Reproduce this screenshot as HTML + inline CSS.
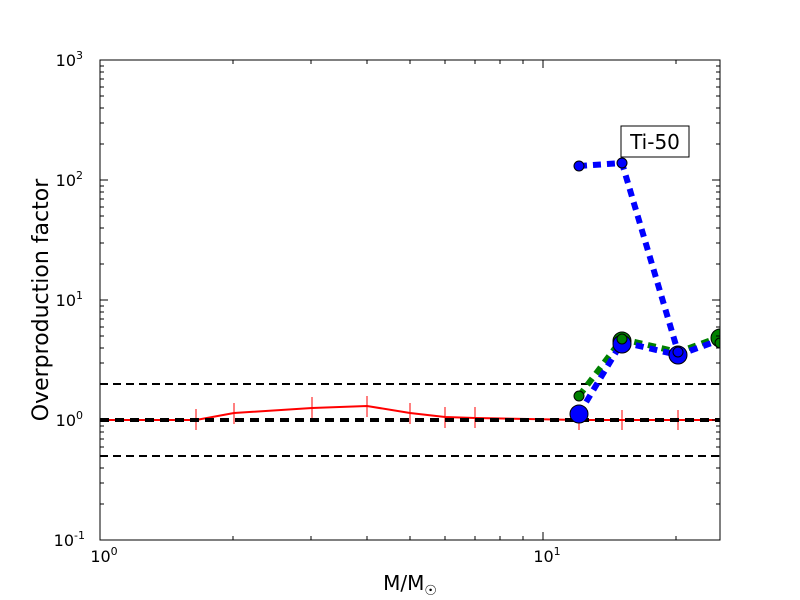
<!DOCTYPE html><html><head><style>body{margin:0;background:#fff}svg{display:block}text{font-family:"DejaVu Sans","Liberation Sans",sans-serif}</style></head><body>
<svg width="800" height="600" xmlns="http://www.w3.org/2000/svg">
<rect width="800" height="600" fill="#fff"/>
<defs><clipPath id="c"><rect x="100" y="60" width="620" height="480"/></clipPath></defs>
<g clip-path="url(#c)">
<line x1="100" y1="384" x2="720" y2="384" stroke="#000" stroke-width="2" stroke-dasharray="8,5"/>
<line x1="100" y1="456" x2="720" y2="456" stroke="#000" stroke-width="2" stroke-dasharray="8,5"/>
<polyline points="100,420 196,420 234,413 312,408 367,406 410,413 445,417 475,418 579,420 622,420 678,420 720,420" fill="none" stroke="#f00" stroke-width="2"/>
<g stroke="#f00" stroke-width="1">
<line x1="196" y1="409" x2="196" y2="430"/><line x1="234" y1="403" x2="234" y2="424"/><line x1="312" y1="397" x2="312" y2="418"/><line x1="367" y1="396" x2="367" y2="417"/><line x1="410" y1="403" x2="410" y2="424"/><line x1="445" y1="407" x2="445" y2="428"/><line x1="475" y1="407" x2="475" y2="428"/><line x1="579" y1="410" x2="579" y2="430"/><line x1="622" y1="410" x2="622" y2="430"/><line x1="678" y1="410" x2="678" y2="430"/></g>
<line x1="100" y1="420" x2="720" y2="420" stroke="#000" stroke-width="4" stroke-dasharray="9,6"/>
<polyline points="579,396 622,339 678,352 720,337" fill="none" stroke="#008000" stroke-width="6" stroke-dasharray="8,6"/>
<polyline points="579,414 622,342 678,355 720,340" fill="none" stroke="#00f" stroke-width="6" stroke-dasharray="8,6"/>
<polyline points="579,166 622,163 678,352" fill="none" stroke="#00f" stroke-width="6" stroke-dasharray="8,6"/>
<g stroke="#000" stroke-width="1">
<circle cx="622" cy="341" r="9" fill="#008000"/><circle cx="720" cy="338" r="9" fill="#008000"/>
<circle cx="579" cy="414" r="9" fill="#00f"/><circle cx="622" cy="344" r="9" fill="#00f"/><circle cx="678" cy="355" r="9" fill="#00f"/>
<circle cx="579" cy="396" r="5" fill="#008000"/><circle cx="622" cy="339" r="5" fill="#008000"/><circle cx="720" cy="343" r="5" fill="#008000"/>
<circle cx="579" cy="166" r="5" fill="#00f"/><circle cx="622" cy="163" r="5" fill="#00f"/><circle cx="678" cy="352" r="5" fill="#00f"/>
</g></g>
<rect x="100" y="60" width="620" height="480" fill="none" stroke="#000" stroke-width="1"/>
<g stroke="#000" stroke-width="1">
<path d="M100,60h8M100,180h8M100,300h8M100,420h8M100,540h8M720,60h-8M720,180h-8M720,300h-8M720,420h-8M720,540h-8M543,540v-8M543,60v8"/>
<path d="M100,504h4M100,483h4M100,468h4M100,456h4M100,447h4M100,439h4M100,432h4M100,426h4M100,384h4M100,363h4M100,348h4M100,336h4M100,327h4M100,319h4M100,312h4M100,306h4M100,264h4M100,243h4M100,228h4M100,216h4M100,207h4M100,199h4M100,192h4M100,186h4M100,144h4M100,123h4M100,108h4M100,96h4M100,87h4M100,79h4M100,72h4M100,66h4M720,504h-4M720,483h-4M720,468h-4M720,456h-4M720,447h-4M720,439h-4M720,432h-4M720,426h-4M720,384h-4M720,363h-4M720,348h-4M720,336h-4M720,327h-4M720,319h-4M720,312h-4M720,306h-4M720,264h-4M720,243h-4M720,228h-4M720,216h-4M720,207h-4M720,199h-4M720,192h-4M720,186h-4M720,144h-4M720,123h-4M720,108h-4M720,96h-4M720,87h-4M720,79h-4M720,72h-4M720,66h-4"/>
<path d="M233,540v-4M311,540v-4M367,540v-4M410,540v-4M445,540v-4M475,540v-4M500,540v-4M523,540v-4M676,540v-4M233,60v4M311,60v4M367,60v4M410,60v4M445,60v4M475,60v4M500,60v4M523,60v4M676,60v4"/>
</g>
<g font-size="16" fill="#000" text-anchor="end">
<text x="83" y="66">10<tspan font-size="11" dy="-7">3</tspan></text>
<text x="83" y="186">10<tspan font-size="11" dy="-7">2</tspan></text>
<text x="83" y="306">10<tspan font-size="11" dy="-7">1</tspan></text>
<text x="83" y="426">10<tspan font-size="11" dy="-7">0</tspan></text>
<text x="85" y="546">10<tspan font-size="11" dy="-7">-1</tspan></text>
</g>
<g font-size="16" text-anchor="middle">
<text x="104" y="562">10<tspan font-size="11" dy="-7">0</tspan></text>
<text x="547" y="562">10<tspan font-size="11" dy="-7">1</tspan></text>
<text x="410" y="590" font-size="20">M/M<tspan font-size="14" dy="5">☉</tspan></text>
</g>
<text transform="translate(48,300) rotate(-90)" font-size="22" text-anchor="middle">Overproduction factor</text>
<rect x="621" y="126" width="68" height="31" fill="#fff" stroke="#000"/>
<text x="655" y="149" font-size="20" text-anchor="middle">Ti-50</text>
</svg></body></html>
